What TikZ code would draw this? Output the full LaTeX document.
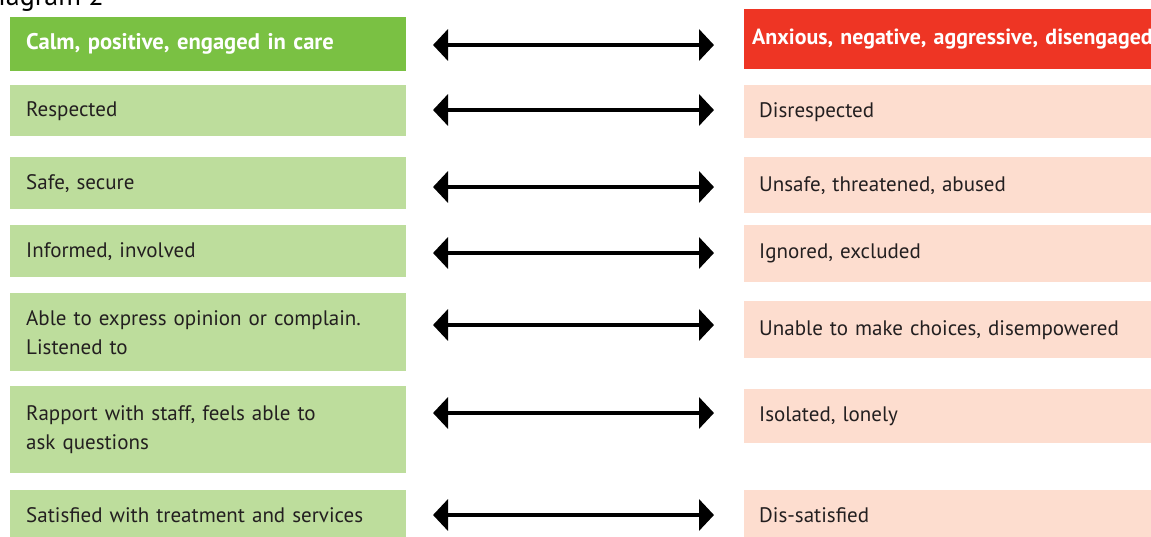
\documentclass[tikz,border=0pt]{standalone}
\usepackage{fontspec}
\setmainfont{PT Sans}
\usepackage{tikz}
\usetikzlibrary{arrows.meta}
\definecolor{goodhead}{HTML}{7AC143}
\definecolor{goodrow}{HTML}{BDDD9C}
\definecolor{badhead}{HTML}{EE3524}
\definecolor{badrow}{HTML}{FDDDCF}
\definecolor{ink}{HTML}{231F20}
\newcommand{\rowfont}{\fontsize{21}{29}\selectfont}
\newcommand{\topfont}{\fontsize{22.6}{29}\selectfont\bfseries}
\tikzstyle{good} = [fill=goodrow,text=ink,anchor=north west,inner xsep=16pt,inner ysep=0pt,text width=364pt,align=left,font=\rowfont]
\tikzstyle{bad} = [fill=badrow,text=ink,anchor=north west,inner xsep=15pt,inner ysep=0pt,text width=377pt,align=left,font=\rowfont]
\tikzstyle{goodtop} = [good,fill=goodhead,text=white,font=\topfont]
\tikzstyle{badtop} = [bad,fill=badhead,text=white,inner xsep=8pt,text width=440pt,font=\fontsize{21.9}{29}\selectfont\bfseries]
\tikzstyle{twoway} = [{Triangle[length=15pt,width=31pt]}-{Triangle[length=15pt,width=31pt]},line width=4pt,black]

\begin{document}
\begin{tikzpicture}[x=1pt,y=-1pt]

% Page frame
    \useasboundingbox (0,0) rectangle (1151,536);
    \clip (0,0) rectangle (1151,536);
    \node[anchor=base east,text=black,font=\fontsize{28}{32}\selectfont,inner sep=0pt] (title) at (104,5) {Diagram 2};

% Left column
    \node[goodtop,minimum height=54pt] (good0) at (10,17) {Calm, positive, engaged in care};
    \node[good,minimum height=51pt] (good1) at (10,85) {Respected};
    \node[good,minimum height=52pt] (good2) at (10,157) {Safe, secure};
    \node[good,minimum height=52pt] (good3) at (10,225) {Informed, involved};
    \node[good,minimum height=78pt] (good4) at (10,293) {Able to express opinion or complain.\\Listened to};
    \node[good,minimum height=87pt] (good5) at (10,386) {Rapport with staff, feels able to\\ask questions};
    \node[good,minimum height=50pt] (good6) at (10,490) {Satisfied with treatment and services};

% Right column
    \node[badtop,minimum height=60pt] (bad0) at (744,9) {Anxious, negative, aggressive, disengaged};
    \node[bad,minimum height=53pt] (bad1) at (744,85) {Disrespected};
    \node[bad,minimum height=56pt] (bad2) at (744,157) {Unsafe, threatened, abused};
    \node[bad,minimum height=57pt] (bad3) at (744,225) {Ignored, excluded};
    \node[bad,minimum height=57pt] (bad4) at (744,301) {Unable to make choices, disempowered};
    \node[bad,minimum height=54pt] (bad5) at (744,389) {Isolated, lonely};
    \node[bad,minimum height=50pt] (bad6) at (744,490) {Dis-satisfied};

% Arrows between the columns
    \def\al{433}
    \def\ar{714}
    \coordinate (arr0l) at (\al,45);  \coordinate (arr0r) at (\ar,45);
    \coordinate (arr1l) at (\al,110); \coordinate (arr1r) at (\ar,110);
    \coordinate (arr2l) at (\al,187); \coordinate (arr2r) at (\ar,187);
    \coordinate (arr3l) at (\al,253); \coordinate (arr3r) at (\ar,253);
    \coordinate (arr4l) at (\al,325); \coordinate (arr4r) at (\ar,325);
    \coordinate (arr5l) at (\al,413); \coordinate (arr5r) at (\ar,413);
    \coordinate (arr6l) at (\al,515); \coordinate (arr6r) at (\ar,515);
    \draw[twoway] (arr0l) -- (arr0r);
    \draw[twoway] (arr1l) -- (arr1r);
    \draw[twoway] (arr2l) -- (arr2r);
    \draw[twoway] (arr3l) -- (arr3r);
    \draw[twoway] (arr4l) -- (arr4r);
    \draw[twoway] (arr5l) -- (arr5r);
    \draw[twoway] (arr6l) -- (arr6r);

\end{tikzpicture}
\end{document}
